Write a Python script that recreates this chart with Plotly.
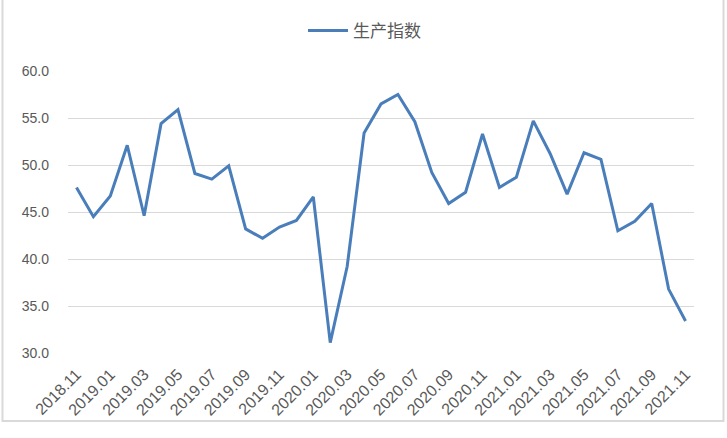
import plotly.graph_objects as go

months = [
    "2018.11", "2018.12", "2019.01", "2019.02", "2019.03", "2019.04", "2019.05", "2019.06",
    "2019.07", "2019.08", "2019.09", "2019.10", "2019.11", "2019.12", "2020.01", "2020.02",
    "2020.03", "2020.04", "2020.05", "2020.06", "2020.07", "2020.08", "2020.09", "2020.10",
    "2020.11", "2020.12", "2021.01", "2021.02", "2021.03", "2021.04", "2021.05", "2021.06",
    "2021.07", "2021.08", "2021.09", "2021.10", "2021.11",
]
production_index = [
    47.6, 44.5, 46.7, 52.1, 44.6, 54.4, 55.9, 49.1,
    48.5, 49.9, 43.2, 42.2, 43.4, 44.1, 46.6, 31.1,
    39.2, 53.4, 56.5, 57.5, 54.6, 49.2, 45.9, 47.1,
    53.3, 47.6, 48.7, 54.7, 51.2, 46.9, 51.3, 50.6,
    43.0, 44.0, 45.9, 36.8, 33.4,
]
y_ticks = [30, 35, 40, 45, 50, 55, 60]
series_name = "生产指数"

W, H = 727, 438
ml, mr, mt, mb = 68, 33, 71, 85
pw, ph = W - ml - mr, H - mt - mb

fig = go.Figure()
fig.add_trace(go.Scatter(
    x=months, y=production_index, mode="lines", name=series_name,
    line=dict(color="#4A7EBB", width=3),
))

fig.update_layout(
    width=W, height=H,
    margin=dict(l=ml, r=mr, t=mt, b=mb, autoexpand=False),
    paper_bgcolor="white", plot_bgcolor="white",
    font=dict(family="Liberation Sans, Arial, sans-serif", size=14, color="#595959"),
    showlegend=True,
    legend=dict(
        orientation="h", xref="container", yref="container",
        x=303 / W, xanchor="left", y=1 - 31 / H, yanchor="middle",
        font=dict(family="Noto Sans CJK SC, sans-serif", size=17, color="#595959"),
        itemwidth=40, bgcolor="rgba(0,0,0,0)",
    ),
    xaxis=dict(
        type="category", categoryorder="array", categoryarray=months,
        range=[-0.5, len(months) - 0.5], automargin=False,
        tickmode="array", tickvals=months[::2], ticktext=months[::2],
        tickangle=-45, showgrid=False, showline=False, zeroline=False,
        ticks="", ticklabelstandoff=8, tickfont=dict(size=16, color="#595959"),
    ),
    yaxis=dict(
        range=[30, 60], tickmode="array", tickvals=y_ticks, automargin=False,
        ticktext=[f"{v:.1f}" for v in y_ticks],
        showgrid=True, gridcolor="#D9D9D9", gridwidth=1,
        zeroline=False, showline=False, ticks="", ticklabelstandoff=18,
        tickfont=dict(size=14, color="#595959"),
    ),
    shapes=[dict(
        type="rect", xref="paper", yref="paper",
        x0=(2.5 - ml) / pw, x1=(W - 3.5 - ml) / pw,
        y0=(H - mt - (H - 3)) / ph, y1=(H - mt - 1.5) / ph,
        line=dict(color="#D9D9D9", width=2), fillcolor="rgba(0,0,0,0)", layer="below",
    )],
)

fig.write_html(
    "out.html",
    config={"displayModeBar": False},
    post_script="document.body.style.margin='0';document.body.style.overflow='hidden';",
)
